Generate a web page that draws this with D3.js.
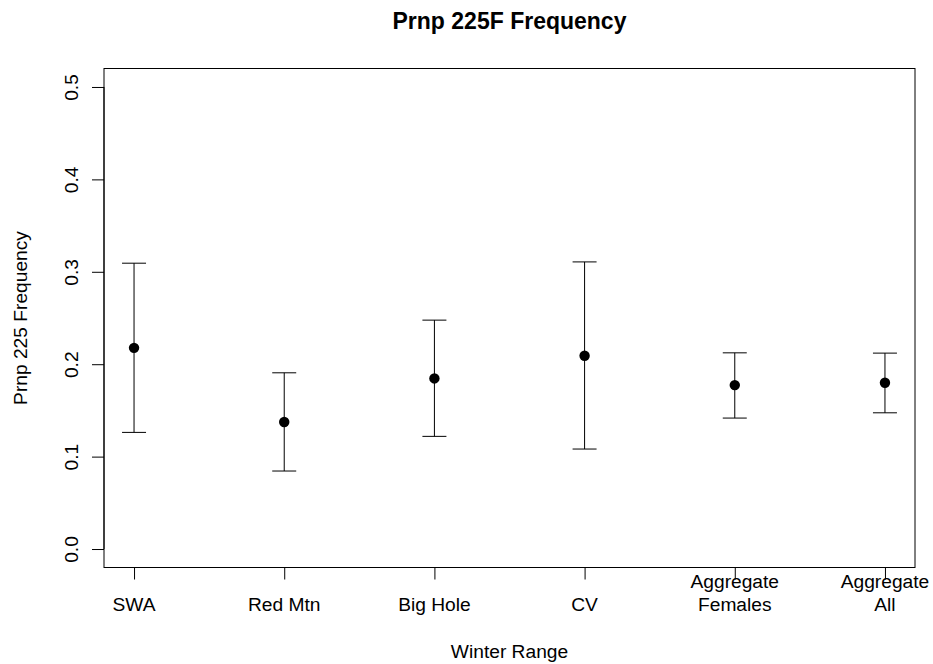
<!DOCTYPE html>
<html>
<head>
<meta charset="utf-8">
<script src="https://cdn.jsdelivr.net/npm/d3@7"></script>
<style>
  body { margin: 0; background: #fff; }
  svg text { font-family: "Liberation Sans", Arial, Helvetica, sans-serif; fill: #000; }
</style>
</head>
<body>
<div id="chart"></div>
<script>
// data
const ranges = ['SWA', 'Red Mtn', 'Big Hole', 'CV', 'Aggregate\nFemales', 'Aggregate\nAll'];
const freq = [0.2177, 0.1374, 0.1846, 0.2091, 0.1774, 0.1799];
const lower = [0.1262, 0.0844, 0.1219, 0.1082, 0.1417, 0.1474];
const upper = [0.3093, 0.1907, 0.2477, 0.3107, 0.2123, 0.2120];
const yTicks = [0.0, 0.1, 0.2, 0.3, 0.4, 0.5];

const width = 933;
const height = 664;
const box = { left: 104, right: 915, top: 68.5, bottom: 567.5 };
const fs = 19.2;

const svg = d3.select('#chart')
  .append('svg')
  .attr('width', width)
  .attr('height', height);

// R-style padded domains (4% each side)
const x = d3.scaleLinear().domain([0.8, 6.2]).range([box.left, box.right]);
const y = d3.scaleLinear().domain([-0.02, 0.52]).range([box.bottom, box.top]);

const idx = ranges.map((d, i) => i + 1);

// plot frame
svg.append('rect')
  .attr('x', box.left)
  .attr('y', box.top)
  .attr('width', box.right - box.left)
  .attr('height', box.bottom - box.top)
  .attr('fill', 'none')
  .attr('stroke', '#000')
  .attr('stroke-width', 1);

// y axis
const yAxis = svg.append('g')
  .attr('transform', `translate(${box.left},0)`)
  .call(d3.axisLeft(y).tickValues(yTicks).tickSize(12).tickFormat(d3.format('.1f')));
yAxis.select('.domain')
  .attr('d', `M0,${y(0)}V${y(0.5)}`);
yAxis.selectAll('.tick text')
  .attr('font-size', fs)
  .attr('font-family', null)
  .attr('transform', 'rotate(-90)')
  .attr('x', 0)
  .attr('y', -26)
  .attr('dy', 0)
  .attr('text-anchor', 'middle');

// x axis
const xAxis = svg.append('g')
  .attr('transform', `translate(0,${box.bottom})`)
  .call(d3.axisBottom(x).tickValues(idx).tickSize(12).tickFormat(''));
xAxis.select('.domain')
  .attr('d', `M${x(1)},0H${x(6)}`);

// x tick labels (multi-line, last line aligned with single lines)
const labels = svg.append('g').selectAll('text')
  .data(ranges)
  .join('text')
  .attr('x', (d, i) => x(i + 1))
  .attr('font-size', fs)
  .attr('text-anchor', 'middle');
labels.each(function (d) {
  const lines = d.split('\n');
  const t = d3.select(this);
  lines.forEach((ln, k) => {
    t.append('tspan')
      .attr('x', t.attr('x'))
      .attr('y', 611 - (lines.length - 1 - k) * 23.5)
      .text(ln);
  });
});

svg.selectAll('.tick line').attr('stroke', '#000');
svg.selectAll('.domain').attr('stroke', '#000');

// error bars
const bars = svg.append('g')
  .selectAll('g')
  .data(idx)
  .join('g');

bars.append('line')
  .attr('x1', (d) => x(d)).attr('x2', (d) => x(d))
  .attr('y1', (d, i) => y(lower[i])).attr('y2', (d, i) => y(upper[i]))
  .attr('stroke', '#000');
bars.append('line')
  .attr('x1', (d) => x(d) - 12).attr('x2', (d) => x(d) + 12)
  .attr('y1', (d, i) => y(upper[i])).attr('y2', (d, i) => y(upper[i]))
  .attr('stroke', '#000');
bars.append('line')
  .attr('x1', (d) => x(d) - 12).attr('x2', (d) => x(d) + 12)
  .attr('y1', (d, i) => y(lower[i])).attr('y2', (d, i) => y(lower[i]))
  .attr('stroke', '#000');
bars.append('circle')
  .attr('cx', (d) => x(d))
  .attr('cy', (d, i) => y(freq[i]))
  .attr('r', 5.2)
  .attr('fill', '#000');

// titles
svg.append('text')
  .attr('x', (box.left + box.right) / 2)
  .attr('y', 29)
  .attr('text-anchor', 'middle')
  .attr('font-size', 23)
  .attr('font-weight', 'bold')
  .text('Prnp 225F Frequency');

svg.append('text')
  .attr('x', (box.left + box.right) / 2)
  .attr('y', 658)
  .attr('text-anchor', 'middle')
  .attr('font-size', fs)
  .text('Winter Range');

svg.append('text')
  .attr('transform', `translate(27,${(box.top + box.bottom) / 2}) rotate(-90)`)
  .attr('text-anchor', 'middle')
  .attr('font-size', fs)
  .text('Prnp 225 Frequency');
</script>
</body>
</html>
